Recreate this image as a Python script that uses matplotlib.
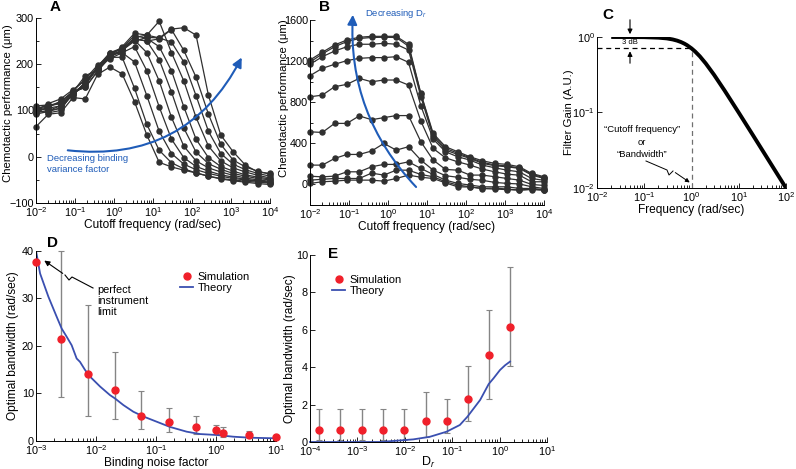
import matplotlib
matplotlib.use("Agg")
import matplotlib.pyplot as plt
from matplotlib.lines import Line2D
from matplotlib.ticker import MultipleLocator, NullLocator

plt.rcParams["font.family"] = ["Liberation Sans", "DejaVu Sans"]
plt.rcParams["mathtext.fontset"] = "custom"
plt.rcParams["mathtext.rm"] = "Liberation Sans"
plt.rcParams["mathtext.it"] = "Liberation Sans:italic"

W, H = 796, 469

# ---------------- data ----------------
# panel A / B: cutoff frequency grid (rad/sec)
cutoff = [0.01, 0.0207, 0.0428, 0.0886, 0.183, 0.379, 0.785, 1.62, 3.36, 6.95,
          14.4, 29.8, 61.6, 127, 264, 546, 1129, 2336, 4833, 10000]

# panel A: one curve per binding variance factor
perf_a = [
    [65, 92, 95, 128, 125, 178, 194, 179, 119, 47, -12, -22, -29, -35, -42, -48, -52, -55, -58, -60],
    [100, 95, 100, 140, 150, 185, 215, 215, 148, 70, 14, -13, -26, -35, -42, -47, -50, -53, -55, -57],
    [105, 100, 110, 135, 160, 190, 220, 225, 205, 132, 55, 7, -16, -28, -36, -42, -47, -50, -53, -56],
    [95, 108, 120, 140, 155, 192, 212, 225, 238, 186, 108, 38, -2, -21, -31, -39, -44, -49, -52, -55],
    [110, 112, 115, 132, 162, 195, 225, 232, 252, 225, 164, 85, 23, -9, -24, -33, -40, -46, -50, -53],
    [100, 115, 125, 145, 165, 190, 218, 230, 255, 250, 210, 140, 62, 10, -15, -27, -36, -42, -47, -50],
    [92, 98, 105, 135, 155, 195, 222, 235, 262, 256, 238, 186, 108, 38, -2, -21, -31, -39, -44, -48],
    [100, 105, 110, 140, 175, 188, 215, 230, 258, 263, 293, 225, 164, 85, 23, -9, -24, -33, -40, -46],
    [105, 110, 115, 140, 150, 185, 220, 230, 250, 258, 257, 248, 205, 132, 55, 7, -16, -28, -36, -42],
    [95, 100, 105, 135, 160, 190, 225, 235, 255, 250, 255, 275, 230, 172, 92, 27, -7, -22, -31, -38],
    [102, 108, 118, 142, 168, 198, 218, 238, 267, 263, 257, 276, 279, 263, 133, 47, 11, -18, -33, -36],
]

# panel B: one curve per rotational diffusion D_r
perf_b = [
    [1211, 1286, 1357, 1406, 1432, 1441, 1441, 1441, 1364, 886, 496, 367, 318, 269, 230, 205, 195, 172, 107, 75],
    [1190, 1270, 1340, 1390, 1420, 1430, 1432, 1430, 1345, 880, 480, 350, 305, 260, 215, 190, 180, 160, 100, 65],
    [1169, 1243, 1298, 1340, 1364, 1364, 1373, 1364, 1308, 854, 464, 334, 292, 253, 205, 182, 172, 156, 91, 58],
    [1058, 1130, 1169, 1205, 1227, 1234, 1234, 1243, 1188, 766, 441, 318, 269, 237, 188, 162, 139, 123, 58, 40],
    [853, 869, 951, 974, 1032, 999, 1016, 1016, 967, 617, 350, 259, 220, 188, 149, 123, 100, 90, 26, 26],
    [512, 506, 594, 594, 667, 630, 650, 670, 670, 416, 237, 146, 139, 91, 91, 75, 58, 42, 0, -10],
    [188, 188, 253, 292, 292, 325, 399, 334, 367, 237, 139, 85, 70, 50, 40, 20, 10, 5, -23, -39],
    [80, 74, 81, 123, 123, 172, 195, 195, 220, 156, 97, 42, 10, -6, -23, -23, -23, -39, -39, -50],
    [42, 50, 58, 58, 58, 110, 91, 139, 139, 97, 75, 26, -6, -23, -39, -35, -45, -55, -45, -55],
    [10, 26, 32, 42, 42, 42, 32, 58, 91, 70, 58, 15, -23, -25, -40, -45, -50, -55, -50, -55],
]

# panel C: low-pass filter gain
freq_c = [0.02, 0.05, 0.1, 0.2, 0.3, 0.4, 0.5, 0.6, 0.7, 0.8, 1.0, 1.2, 1.5, 2, 3, 5, 10, 20, 50, 100]
gain_c = [1.0, 0.999, 0.995, 0.98, 0.958, 0.928, 0.894, 0.857, 0.819, 0.781, 0.707,
          0.64, 0.555, 0.447, 0.316, 0.196, 0.0995, 0.05, 0.02, 0.01]

# panel D: optimal bandwidth vs binding noise factor
noise_d = [1e-3, 2.6e-3, 7.4e-3, 0.021, 0.057, 0.165, 0.47, 1.0, 1.3, 3.5, 10]
sim_d = [37.7, 21.5, 14.0, 10.7, 5.3, 3.9, 2.9, 2.2, 1.7, 1.3, 0.7]
sim_d_hi = [37.7, 40.0, 28.5, 18.7, 10.5, 6.8, 5.3, 3.4, 2.95, 2.1, 0.7]
sim_d_lo = [37.7, 9.3, 5.3, 4.5, 2.5, 1.75, 1.5, 1.4, 0.7, 0.85, 0.7]
theory_d_x = [1e-3, 1.17e-3, 1.61e-3, 2.21e-3, 2.68e-3, 3.24e-3, 3.93e-3, 4.76e-3, 5.41e-3,
              6.56e-3, 7.94e-3, 0.0117, 0.0171, 0.0207, 0.0286, 0.0419, 0.0615, 0.1026,
              0.171, 0.324, 0.541, 1.03, 1.95, 3.69, 10]
theory_d_y = [40, 35.2, 30.3, 26.1, 23.6, 21.9, 20.1, 17.3, 16.6, 14.9, 13.5, 11.4, 9.6,
              8.9, 7.5, 6.1, 5.1, 4.0, 2.9, 1.9, 1.4, 1.2, 0.84, 0.63, 0.5]

# panel E: optimal bandwidth vs D_r
dr_e = [1.58e-4, 4.4e-4, 1.24e-3, 3.5e-3, 9.8e-3, 0.0275, 0.077, 0.215, 0.6, 1.66]
sim_e = [0.66, 0.66, 0.66, 0.66, 0.66, 1.14, 1.14, 2.3, 4.65, 6.15]
sim_e_hi = [1.75, 1.75, 1.75, 1.75, 1.75, 2.66, 2.28, 4.06, 7.06, 9.34]
sim_e_lo = [0.12, 0.12, 0.12, 0.12, 0.12, 0.28, 0.47, 1.14, 2.3, 4.06]
theory_e_x = [1e-4, 3e-3, 6.8e-3, 0.0151, 0.0339, 0.0759, 0.145, 0.209, 0.389, 0.589,
              0.741, 1.02, 1.30, 1.66]
theory_e_y = [0, 0, 0.07, 0.14, 0.28, 0.55, 0.91, 1.35, 2.25, 3.1, 3.4, 3.85, 4.1, 4.3]

# ---------------- style ----------------
BLUE = "#1f5cb8"
THEORY = "#3a4fb0"
RED = "#f0202a"
GREY = "#858585"
LINE = "#303030"
TICK = 7.8
LAB = 8.6


def px(x, y):
    # image pixel -> figure fraction
    return (x / W, 1 - y / H)


def axes_at(x0, y0, x1, y1):
    return fig.add_axes([x0 / W, 1 - y1 / H, (x1 - x0) / W, (y1 - y0) / H])


def style(ax):
    for s in ("top", "right"):
        ax.spines[s].set_visible(False)
    for s in ("left", "bottom"):
        ax.spines[s].set_linewidth(0.7)
    ax.tick_params(which="both", direction="in", labelsize=TICK, width=0.6, pad=1.5)
    ax.tick_params(which="major", length=3.5)
    ax.tick_params(which="minor", length=2)


def place_ylabel(ax, right_px, x0, x1, yfrac=0.5):
    # put the right edge of the rotated y label at a given image x
    ax.yaxis.set_label_coords((right_px - x0) / (x1 - x0), yfrac)


fig = plt.figure(figsize=(W / 100, H / 100), dpi=100)

# --- A ---
ax_a = axes_at(36, 18, 270, 203)
for ys in perf_a:
    ax_a.plot(cutoff, ys, color=LINE, lw=0.9, marker="o", ms=3.6, clip_on=False)
ax_a.set_xscale("log")
ax_a.set_xlim(1e-2, 1e4)
ax_a.set_ylim(-100, 300)
ax_a.set_yticks([-100, 0, 100, 200, 300])
ax_a.yaxis.set_minor_locator(MultipleLocator(50))
ax_a.set_xlabel("Cutoff frequency (rad/sec)", fontsize=LAB, labelpad=0)
ax_a.set_ylabel("Chemotactic performance (\u03bcm)", fontsize=8.2)
place_ylabel(ax_a, 13.5, 36, 270, 0.54)
style(ax_a)
ax_a.annotate("", xy=px(243, 55), xytext=px(65, 150), xycoords="figure fraction",
              arrowprops=dict(arrowstyle="-|>", connectionstyle="arc3,rad=0.35",
                              color=BLUE, lw=1.5, mutation_scale=14))
fig.text(*px(47, 154), "Decreasing binding\nvariance factor", color=BLUE,
         fontsize=6.8, ha="left", va="top", linespacing=1.3)

# --- B ---
ax_b = axes_at(310, 20, 544, 205)
for ys in perf_b:
    ax_b.plot(cutoff, ys, color=LINE, lw=0.9, marker="o", ms=3.6, clip_on=False)
ax_b.set_xscale("log")
ax_b.set_xlim(1e-2, 1e4)
ax_b.set_ylim(-200, 1600)
ax_b.set_yticks([0, 400, 800, 1200, 1600])
ax_b.yaxis.set_minor_locator(MultipleLocator(200))
ax_b.set_xlabel("Cutoff frequency (rad/sec)", fontsize=LAB, labelpad=0)
ax_b.set_ylabel("Chemotactic performance (\u03bcm)", fontsize=8.2)
place_ylabel(ax_b, 289, 310, 544, 0.58)
style(ax_b)
ax_b.annotate("", xy=px(353, 12), xytext=px(418, 189), xycoords="figure fraction",
              arrowprops=dict(arrowstyle="-|>", connectionstyle="arc3,rad=-0.22",
                              color=BLUE, lw=1.5, mutation_scale=14))
fig.text(*px(365, 14), "Decreasing D$_r$", color=BLUE, fontsize=6.8,
         ha="left", va="center")

# --- C ---
ax_c = axes_at(597, 37, 786, 188)
ax_c.plot(freq_c, gain_c, color="black", lw=2.8, solid_capstyle="butt")
ax_c.plot([1e-2, 1.0], [0.707, 0.707], color="black", lw=0.9, ls=(0, (4, 3)))
ax_c.plot([1.0, 1.0], [1e-2, 0.707], color="#707070", lw=0.9, ls=(0, (4, 3)))
ax_c.set_xscale("log")
ax_c.set_yscale("log")
ax_c.set_xlim(1e-2, 1e2)
ax_c.set_ylim(1e-2, 1e0)
ax_c.yaxis.set_minor_locator(NullLocator())
ax_c.set_xlabel("Frequency (rad/sec)", fontsize=LAB, labelpad=0)
ax_c.set_ylabel("Filter Gain (A.U.)", fontsize=8.2)
place_ylabel(ax_c, 574, 597, 786)
style(ax_c)
ax_c.annotate("", xy=px(630, 37), xytext=px(630, 17), xycoords="figure fraction",
              arrowprops=dict(arrowstyle="-|>", color="black", lw=0.8, mutation_scale=7))
ax_c.annotate("", xy=px(630, 48.5), xytext=px(630, 66), xycoords="figure fraction",
              arrowprops=dict(arrowstyle="-|>", color="black", lw=0.8, mutation_scale=7))
fig.text(*px(630, 42.5), "3 dB", fontsize=5.5, ha="center", va="center")
fig.text(*px(642, 142), "\u201cCutoff frequency\u201d\nor\n\u201cBandwidth\u201d",
         fontsize=6.8, ha="center", va="center", linespacing=1.55)
zig_c = [px(646, 161), px(667, 170), px(669, 175), px(673, 171)]
fig.add_artist(Line2D([p[0] for p in zig_c], [p[1] for p in zig_c],
                      transform=fig.transFigure, color="black", lw=0.7))
ax_c.annotate("", xy=px(692, 184), xytext=px(673, 171), xycoords="figure fraction",
              arrowprops=dict(arrowstyle="-|>", color="black", lw=0.7, mutation_scale=6))

# --- D ---
ax_d = axes_at(36, 250.7, 276, 440.7)
ax_d.plot(theory_d_x, theory_d_y, color=THEORY, lw=1.3, zorder=2)
ax_d.errorbar(noise_d, sim_d,
              yerr=[[s - lo for s, lo in zip(sim_d, sim_d_lo)],
                    [hi - s for s, hi in zip(sim_d, sim_d_hi)]],
              fmt="none", ecolor=GREY, elinewidth=1.0, capsize=2, capthick=0.8,
              zorder=1, clip_on=False)
ax_d.plot(noise_d, sim_d, ls="none", marker="o", ms=5, color=RED, zorder=3, clip_on=False)
ax_d.set_xscale("log")
ax_d.set_xlim(1e-3, 1e1)
ax_d.set_ylim(0, 40)
ax_d.set_yticks([0, 10, 20, 30, 40])
ax_d.set_xlabel("Binding noise factor", fontsize=LAB, labelpad=0)
ax_d.set_ylabel("Optimal bandwidth (rad/sec)", fontsize=LAB)
place_ylabel(ax_d, 19, 36, 276)
style(ax_d)
ax_d.legend(handles=[Line2D([], [], ls="none", marker="o", ms=5, color=RED),
                     Line2D([], [], color=THEORY, lw=1.3)],
            labels=["Simulation", "Theory"], frameon=False, fontsize=8,
            loc="upper left", bbox_to_anchor=px(180, 272), bbox_transform=fig.transFigure,
            handlelength=1.2, handletextpad=0.4, labelspacing=0.1, borderpad=0,
            borderaxespad=0)
fig.text(*px(97, 285), "perfect\ninstrument\nlimit", fontsize=7.8, ha="left",
         va="top", linespacing=1.15)
zig_d = [px(93, 288), px(72, 277), px(69, 280), px(65, 275)]
fig.add_artist(Line2D([p[0] for p in zig_d], [p[1] for p in zig_d],
                      transform=fig.transFigure, color="black", lw=0.8))
ax_d.annotate("", xy=px(42, 259), xytext=px(65, 275), xycoords="figure fraction",
              arrowprops=dict(arrowstyle="-|>", color="black", lw=0.8, mutation_scale=8))

# --- E ---
ax_e = axes_at(310, 255, 547, 442)
ax_e.plot(theory_e_x, theory_e_y, color=THEORY, lw=1.3, zorder=2, clip_on=False)
ax_e.errorbar(dr_e, sim_e,
              yerr=[[s - lo for s, lo in zip(sim_e, sim_e_lo)],
                    [hi - s for s, hi in zip(sim_e, sim_e_hi)]],
              fmt="none", ecolor=GREY, elinewidth=1.0, capsize=2, capthick=0.8, zorder=1)
ax_e.plot(dr_e, sim_e, ls="none", marker="o", ms=5, color=RED, zorder=3)
ax_e.set_xscale("log")
ax_e.set_xlim(1e-4, 1e1)
ax_e.set_ylim(0, 10)
ax_e.set_yticks([0, 2, 4, 6, 8, 10])
ax_e.set_xlabel("D$_r$", fontsize=9, labelpad=-2.5)
ax_e.set_ylabel("Optimal bandwidth (rad/sec)", fontsize=LAB)
place_ylabel(ax_e, 296, 310, 547)
style(ax_e)
ax_e.legend(handles=[Line2D([], [], ls="none", marker="o", ms=5, color=RED),
                     Line2D([], [], color=THEORY, lw=1.3)],
            labels=["Simulation", "Theory"], frameon=False, fontsize=8,
            loc="upper left", bbox_to_anchor=px(332, 275), bbox_transform=fig.transFigure,
            handlelength=1.2, handletextpad=0.4, labelspacing=0.1, borderpad=0,
            borderaxespad=0)

# panel letters
for lab, (x, y) in {"A": (55, 7), "B": (325, 7), "C": (608, 15),
                    "D": (53, 243), "E": (333, 254)}.items():
    fig.text(*px(x, y), lab, fontsize=11, fontweight="bold", ha="center", va="center")

fig.savefig("out.png", dpi=100)
